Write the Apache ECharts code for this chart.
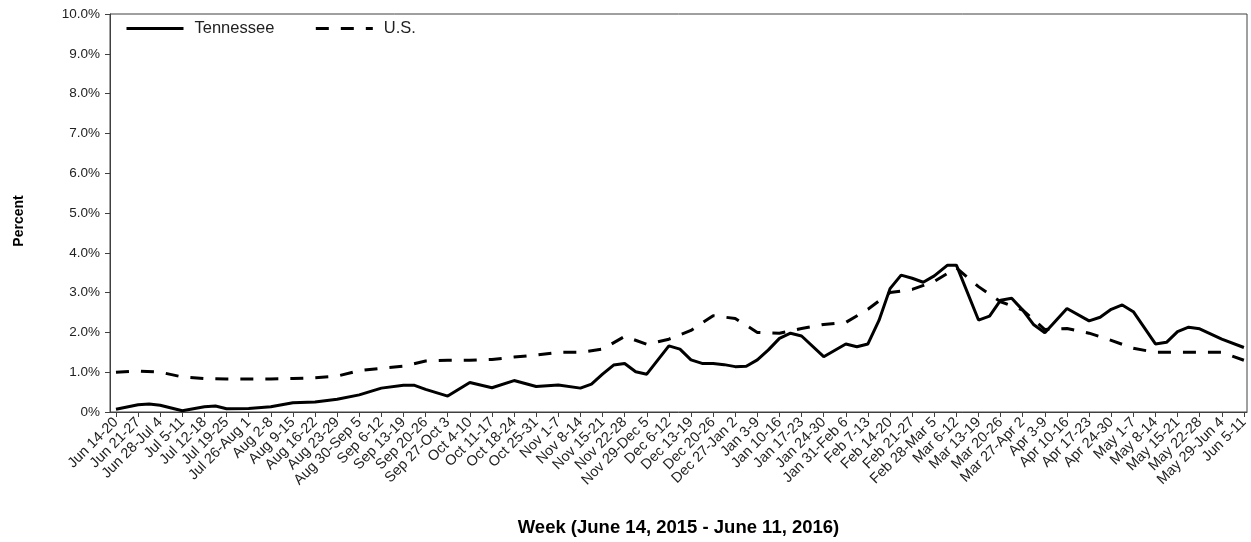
<!DOCTYPE html>
<html>
<head>
<meta charset="utf-8">
<title>Tennessee vs U.S.</title>
<script src="https://cdn.jsdelivr.net/npm/echarts@6/dist/echarts.min.js"></script>
<style>
  html, body { margin: 0; padding: 0; background: #fff; }
  #chart { width: 1251px; height: 542px; }
</style>
</head>
<body>
<div id="chart"></div>
<script>
// week categories (x axis tick labels)
const weeks = [
  'Jun 14-20', 'Jun 21-27', 'Jun 28-Jul 4', 'Jul 5-11', 'Jul 12-18', 'Jul 19-25',
  'Jul 26-Aug 1', 'Aug 2-8', 'Aug 9-15', 'Aug 16-22', 'Aug 23-29', 'Aug 30-Sep 5',
  'Sep 6-12', 'Sep 13-19', 'Sep 20-26', 'Sep 27-Oct 3', 'Oct 4-10', 'Oct 11-17',
  'Oct 18-24', 'Oct 25-31', 'Nov 1-7', 'Nov 8-14', 'Nov 15-21', 'Nov 22-28',
  'Nov 29-Dec 5', 'Dec 6-12', 'Dec 13-19', 'Dec 20-26', 'Dec 27-Jan 2', 'Jan 3-9',
  'Jan 10-16', 'Jan 17-23', 'Jan 24-30', 'Jan 31-Feb 6', 'Feb 7-13', 'Feb 14-20',
  'Feb 21-27', 'Feb 28-Mar 5', 'Mar 6-12', 'Mar 13-19', 'Mar 20-26', 'Mar 27-Apr 2',
  'Apr 3-9', 'Apr 10-16', 'Apr 17-23', 'Apr 24-30', 'May 1-7', 'May 8-14',
  'May 15-21', 'May 22-28', 'May 29-Jun 4', 'Jun 5-11'
]

const yTickLabels = ['0%', '1.0%', '2.0%', '3.0%', '4.0%', '5.0%', '6.0%', '7.0%', '8.0%', '9.0%', '10.0%']

// Tennessee: vertex position (in weeks) and percent
const tnX = [
  0, 1, 1.5, 2, 3, 4, 4.5, 5, 6, 7, 8, 9, 10, 11, 12, 13, 13.5, 14, 15, 16, 17, 18, 19, 20,
  21, 21.5, 22, 22.5, 23, 23.5, 24, 25, 25.5, 26, 26.5, 27, 27.5, 28, 28.5, 29, 29.5, 30, 30.5, 31,
  32, 33, 33.5, 34, 34.5, 35, 35.5, 36, 36.5, 37, 37.6, 38, 39, 39.5, 40, 40.5, 41, 41.5, 42,
  43, 44, 44.5, 45, 45.5, 46, 47, 47.5, 48, 48.5, 49, 50, 51
]
const tnY = [
  0.07, 0.18, 0.2, 0.17, 0.03, 0.13, 0.15, 0.08, 0.09, 0.13, 0.23, 0.25, 0.32, 0.43, 0.6, 0.67, 0.67, 0.57, 0.4, 0.74, 0.61, 0.79, 0.64, 0.68,
  0.6, 0.7, 0.95, 1.18, 1.22, 1.01, 0.95, 1.66, 1.58, 1.31, 1.22, 1.22, 1.19, 1.14, 1.15, 1.31, 1.56, 1.85, 1.98, 1.91,
  1.39, 1.71, 1.64, 1.71, 2.3, 3.1, 3.44, 3.36, 3.26, 3.42, 3.69, 3.69, 2.31, 2.41, 2.81, 2.86, 2.56, 2.19, 1.99,
  2.6, 2.29, 2.38, 2.58, 2.69, 2.52, 1.71, 1.75, 2.02, 2.13, 2.09, 1.83, 1.62
]

// U.S.: one value per week
const usY = [
  1.0, 1.03, 1.0, 0.88, 0.84, 0.83, 0.83, 0.83, 0.84, 0.86, 0.9, 1.04, 1.1, 1.15, 1.28, 1.3, 1.3, 1.32,
  1.38, 1.43, 1.5, 1.5, 1.58, 1.9, 1.7, 1.83, 2.05, 2.42, 2.35, 2.0, 1.98, 2.1, 2.2, 2.25, 2.58, 3.0,
  3.08, 3.28, 3.62, 3.15, 2.77, 2.56, 2.07, 2.1, 1.98, 1.8, 1.6, 1.5, 1.5, 1.5, 1.5, 1.3
]

const font = 'Liberation Sans, Arial, sans-serif'
const axisColor = '#404040'
const labelColor = '#222'
const weekIdx = weeks.map((w, i) => i)

const chart = echarts.init(document.getElementById('chart'))

chart.setOption({
  animation: false,
  backgroundColor: '#fff',
  textStyle: { fontFamily: font },
  grid: {
    left: 110,
    right: 4,
    top: 14,
    bottom: 130,
    outerBoundsMode: 'none',
    containLabel: false,
    show: true,
    borderColor: axisColor,
    borderWidth: 1,
    backgroundColor: 'transparent',
  },
  legend: {
    left: 125,
    top: 20,
    padding: 0,
    itemWidth: 57,
    itemHeight: 14,
    itemGap: 40,
    itemStyle: { opacity: 0 },
    lineStyle: { width: 3 },
    textStyle: { fontSize: 16.5, color: labelColor, fontFamily: font, padding: [0, 0, 0, 6] },
    data: ['Tennessee', 'U.S.'],
  },
  xAxis: {
    type: 'value',
    min: -0.27,
    max: 51.14,
    name: 'Week (June 14, 2015 - June 11, 2016)',
    nameLocation: 'middle',
    nameGap: 106,
    nameTextStyle: { fontSize: 18.5, fontWeight: 'bold', color: '#000', fontFamily: font },
    splitLine: { show: false },
    axisLine: { onZero: false, lineStyle: { color: axisColor, width: 1 } },
    axisTick: { length: 5, lineStyle: { color: axisColor }, customValues: weekIdx },
    axisLabel: {
      customValues: weekIdx,
      rotate: 45,
      margin: 8,
      fontSize: 14.5,
      color: labelColor,
      fontFamily: font,
      hideOverlap: false,
      formatter: (v) => weeks[Math.round(v)],
    },
  },
  yAxis: {
    type: 'value',
    min: 0,
    max: 10,
    interval: 1,
    name: 'Percent',
    nameLocation: 'middle',
    nameGap: 84,
    nameTextStyle: { fontSize: 14, fontWeight: 'bold', color: '#000', fontFamily: font, padding: [0, 16, 0, 0] },
    splitLine: { show: false },
    axisLine: { show: true, onZero: false, lineStyle: { color: axisColor, width: 1 } },
    axisTick: { show: true, length: 5, lineStyle: { color: axisColor } },
    axisLabel: {
      margin: 10,
      fontSize: 13.5,
      color: labelColor,
      fontFamily: font,
      formatter: (v) => yTickLabels[Math.round(v)],
    },
  },
  series: [
    {
      name: 'Tennessee',
      type: 'line',
      symbol: 'none',
      data: tnX.map((x, i) => [x, tnY[i]]),
      lineStyle: { color: '#000', width: 3, type: 'solid' },
      itemStyle: { color: '#000' },
    },
    {
      name: 'U.S.',
      type: 'line',
      symbol: 'none',
      data: usY.map((v, i) => [i, v]),
      lineStyle: { color: '#000', width: 3, type: [13, 12] },
      itemStyle: { color: '#000' },
    },
  ],
})
</script>
</body>
</html>
